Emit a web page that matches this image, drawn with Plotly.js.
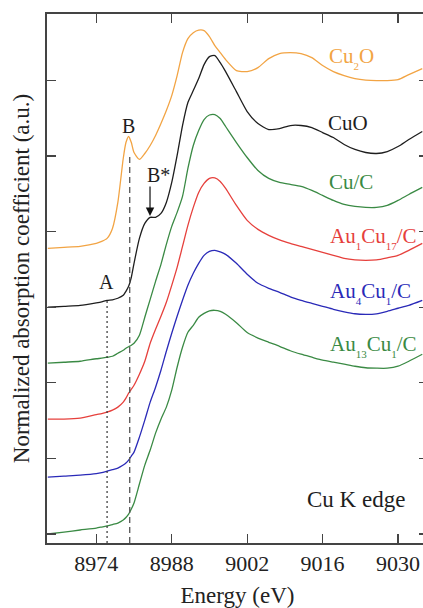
<!DOCTYPE html>
<html>
<head>
<meta charset="utf-8">
<script src="https://cdn.plot.ly/plotly-3.0.1.min.js"></script>
<style>
html,body{margin:0;padding:0;overflow:hidden;background:#fff;}
#chart{width:432px;height:608px;}
</style>
</head>
<body>
<div id="chart"></div>
<script>
// Energy grid (eV)
const energy = [8965, 8968, 8971, 8974, 8975, 8976, 8977, 8978, 8979, 8979.5, 8980, 8980.5, 8981, 8982, 8983, 8984, 8985, 8986, 8987, 8988, 8989, 8990, 8991, 8992, 8993, 8994, 8995, 8996, 8997, 8998, 9000, 9002, 9004, 9006, 9008, 9010, 9012, 9014, 9016, 9018, 9020, 9022, 9024, 9026, 9028, 9030, 9032, 9034.5];

// Normalized absorption (offset stacked, a.u.)
const cu2o = [3.778, 3.791, 3.805, 3.844, 3.870, 3.910, 4.042, 4.386, 4.967, 5.178, 5.258, 5.178, 5.046, 4.954, 5.033, 5.139, 5.271, 5.429, 5.601, 5.799, 6.063, 6.367, 6.552, 6.631, 6.664, 6.658, 6.579, 6.460, 6.367, 6.275, 6.129, 6.116, 6.169, 6.288, 6.354, 6.367, 6.354, 6.301, 6.196, 6.116, 6.063, 6.024, 6.004, 5.997, 5.997, 6.011, 6.077, 6.156];
const cuo = [2.999, 3.012, 3.025, 3.058, 3.071, 3.091, 3.098, 3.118, 3.157, 3.210, 3.276, 3.395, 3.580, 3.910, 4.108, 4.188, 4.188, 4.240, 4.386, 4.650, 5.007, 5.403, 5.707, 5.865, 6.024, 6.209, 6.314, 6.328, 6.235, 6.116, 5.852, 5.588, 5.429, 5.350, 5.363, 5.403, 5.403, 5.376, 5.310, 5.244, 5.152, 5.086, 5.046, 5.033, 5.059, 5.125, 5.218, 5.324];
const cuC = [2.259, 2.272, 2.285, 2.318, 2.325, 2.338, 2.351, 2.391, 2.431, 2.457, 2.477, 2.497, 2.523, 2.629, 2.867, 3.104, 3.342, 3.567, 3.831, 4.069, 4.254, 4.465, 4.835, 5.139, 5.337, 5.482, 5.542, 5.548, 5.495, 5.390, 5.178, 4.980, 4.808, 4.703, 4.650, 4.624, 4.597, 4.544, 4.478, 4.412, 4.359, 4.333, 4.320, 4.320, 4.346, 4.412, 4.491, 4.584];
const au1cu17 = [1.519, 1.519, 1.532, 1.579, 1.592, 1.612, 1.638, 1.678, 1.744, 1.797, 1.863, 1.915, 1.968, 2.114, 2.285, 2.523, 2.708, 2.880, 3.065, 3.289, 3.527, 3.804, 4.082, 4.320, 4.518, 4.637, 4.703, 4.709, 4.663, 4.571, 4.346, 4.148, 4.029, 3.950, 3.890, 3.844, 3.804, 3.765, 3.725, 3.686, 3.646, 3.626, 3.620, 3.626, 3.653, 3.686, 3.752, 3.844];
const au4cu1 = [0.753, 0.766, 0.779, 0.799, 0.812, 0.832, 0.852, 0.872, 0.912, 0.938, 0.978, 1.030, 1.083, 1.281, 1.506, 1.744, 1.942, 2.166, 2.417, 2.655, 2.880, 3.091, 3.289, 3.448, 3.580, 3.686, 3.738, 3.752, 3.732, 3.699, 3.580, 3.435, 3.316, 3.250, 3.197, 3.137, 3.091, 3.051, 3.012, 2.972, 2.939, 2.913, 2.906, 2.913, 2.946, 2.986, 3.025, 3.091];
const au13cu1 = [0.000, 0.026, 0.053, 0.079, 0.092, 0.106, 0.125, 0.145, 0.185, 0.218, 0.264, 0.330, 0.410, 0.661, 0.911, 1.110, 1.334, 1.519, 1.678, 1.902, 2.206, 2.470, 2.668, 2.761, 2.867, 2.919, 2.952, 2.959, 2.946, 2.906, 2.795, 2.665, 2.592, 2.536, 2.483, 2.424, 2.378, 2.338, 2.299, 2.272, 2.246, 2.219, 2.199, 2.193, 2.193, 2.219, 2.285, 2.378];

const xTicks = [8974, 8988, 9002, 9016, 9030];
const yTicks = [0, 1, 2, 3, 4, 5, 6];

const C_OR = '#f2a444', C_BK = '#1e1e1e', C_GR = '#3a8a44', C_RD = '#e6403c', C_BL = '#2a2ab8';
const FONT = 'Liberation Serif, Times New Roman, Times, serif';

function tr(y, color, w) {
  return {x: energy, y: y, mode: 'lines', type: 'scatter', hoverinfo: 'skip',
          line: {color: color, width: w || 1.3, shape: 'spline', smoothing: 0.6}};
}
const data = [tr(cu2o, C_OR), tr(cuo, C_BK), tr(cuC, C_GR), tr(au1cu17, C_RD), tr(au4cu1, C_BL), tr(au13cu1, C_GR)];

function s(t, c) { return '<sub><span style="font-size:11px;baseline-shift:-3px;color:' + c + '">' + t + '</span></sub>'; }
function lab(txt, x, y, color, size, anchor) {
  return {text: txt, x: x, y: y, xref: 'x', yref: 'y', showarrow: false,
          xanchor: anchor || 'left', yanchor: 'middle', font: {family: FONT, size: size || 21, color: color}};
}
const annotations = [
  lab('Cu' + s('2', C_OR) + 'O', 9016.8, 6.30, C_OR),
  lab('CuO', 9016.6, 5.437, C_BK),
  lab('Cu/C', 9016.8, 4.656, C_GR),
  lab('Au' + s('1', C_RD) + 'Cu' + s('17', C_RD) + '/C', 9017.0, 3.92, C_RD),
  lab('Au' + s('4', C_BL) + 'Cu' + s('1', C_BL) + '/C', 9017.0, 3.19, C_BL),
  lab('Au' + s('13', C_GR) + 'Cu' + s('1', C_GR) + '/C', 9017.0, 2.49, C_GR),
  lab('Cu K edge', 9012.8, 0.463, C_BK, 23),
  lab('A', 8975.93, 3.333, C_BK, 20, 'center'),
  lab('B', 8979.98, 5.397, C_BK, 20, 'center'),
  lab('B*', 8985.46, 4.749, C_BK, 20, 'center'),
  {x: 8983.97, y: 4.206, xref: 'x', yref: 'y', text: '', showarrow: true, ax: 0, ay: -31,
   arrowhead: 2, arrowsize: 1.4, arrowwidth: 1.2, arrowcolor: '#111'}
];

const shapes = [
  {type: 'line', xref: 'x', yref: 'y', x0: 8976.0, x1: 8976.0, y0: -0.12, y1: 3.095,
   line: {color: '#333', width: 1.2, dash: '2px,3px'}},
  {type: 'line', xref: 'x', yref: 'y', x0: 8980.2, x1: 8980.2, y0: -0.12, y1: 5.01,
   line: {color: '#555', width: 1.3, dash: '6px,4px'}}
];

const layout = {
  width: 432, height: 608,
  margin: {l: 47, r: 4, t: 14, b: 65},
  paper_bgcolor: '#fff', plot_bgcolor: '#fff',
  showlegend: false,
  font: {family: FONT, color: '#222'},
  xaxis: {
    range: [8964.85, 9035.56], tickvals: xTicks, ticktext: xTicks.map(String),
    ticks: 'inside', ticklen: 9, tickwidth: 1.2, tickcolor: '#444',
    showline: true, linecolor: '#444', linewidth: 1.6, mirror: 'ticks',
    showgrid: false, zeroline: false,
    tickfont: {family: FONT, size: 22, color: '#222'},
    title: {text: 'Energy (eV)', font: {family: FONT, size: 23, color: '#222'}, standoff: 12}
  },
  yaxis: {
    range: [-0.119, 6.878], tickvals: yTicks, showticklabels: false,
    ticks: 'inside', ticklen: 9, tickwidth: 1.2, tickcolor: '#444',
    showline: true, linecolor: '#444', linewidth: 1.6, mirror: 'ticks',
    showgrid: false, zeroline: false,
    title: {text: 'Normalized absorption coefficient (a.u.)', font: {family: FONT, size: 23, color: '#222'}, standoff: 9}
  },
  annotations: annotations,
  shapes: shapes
};

Plotly.newPlot('chart', data, layout, {staticPlot: true, displayModeBar: false});
</script>
</body>
</html>
